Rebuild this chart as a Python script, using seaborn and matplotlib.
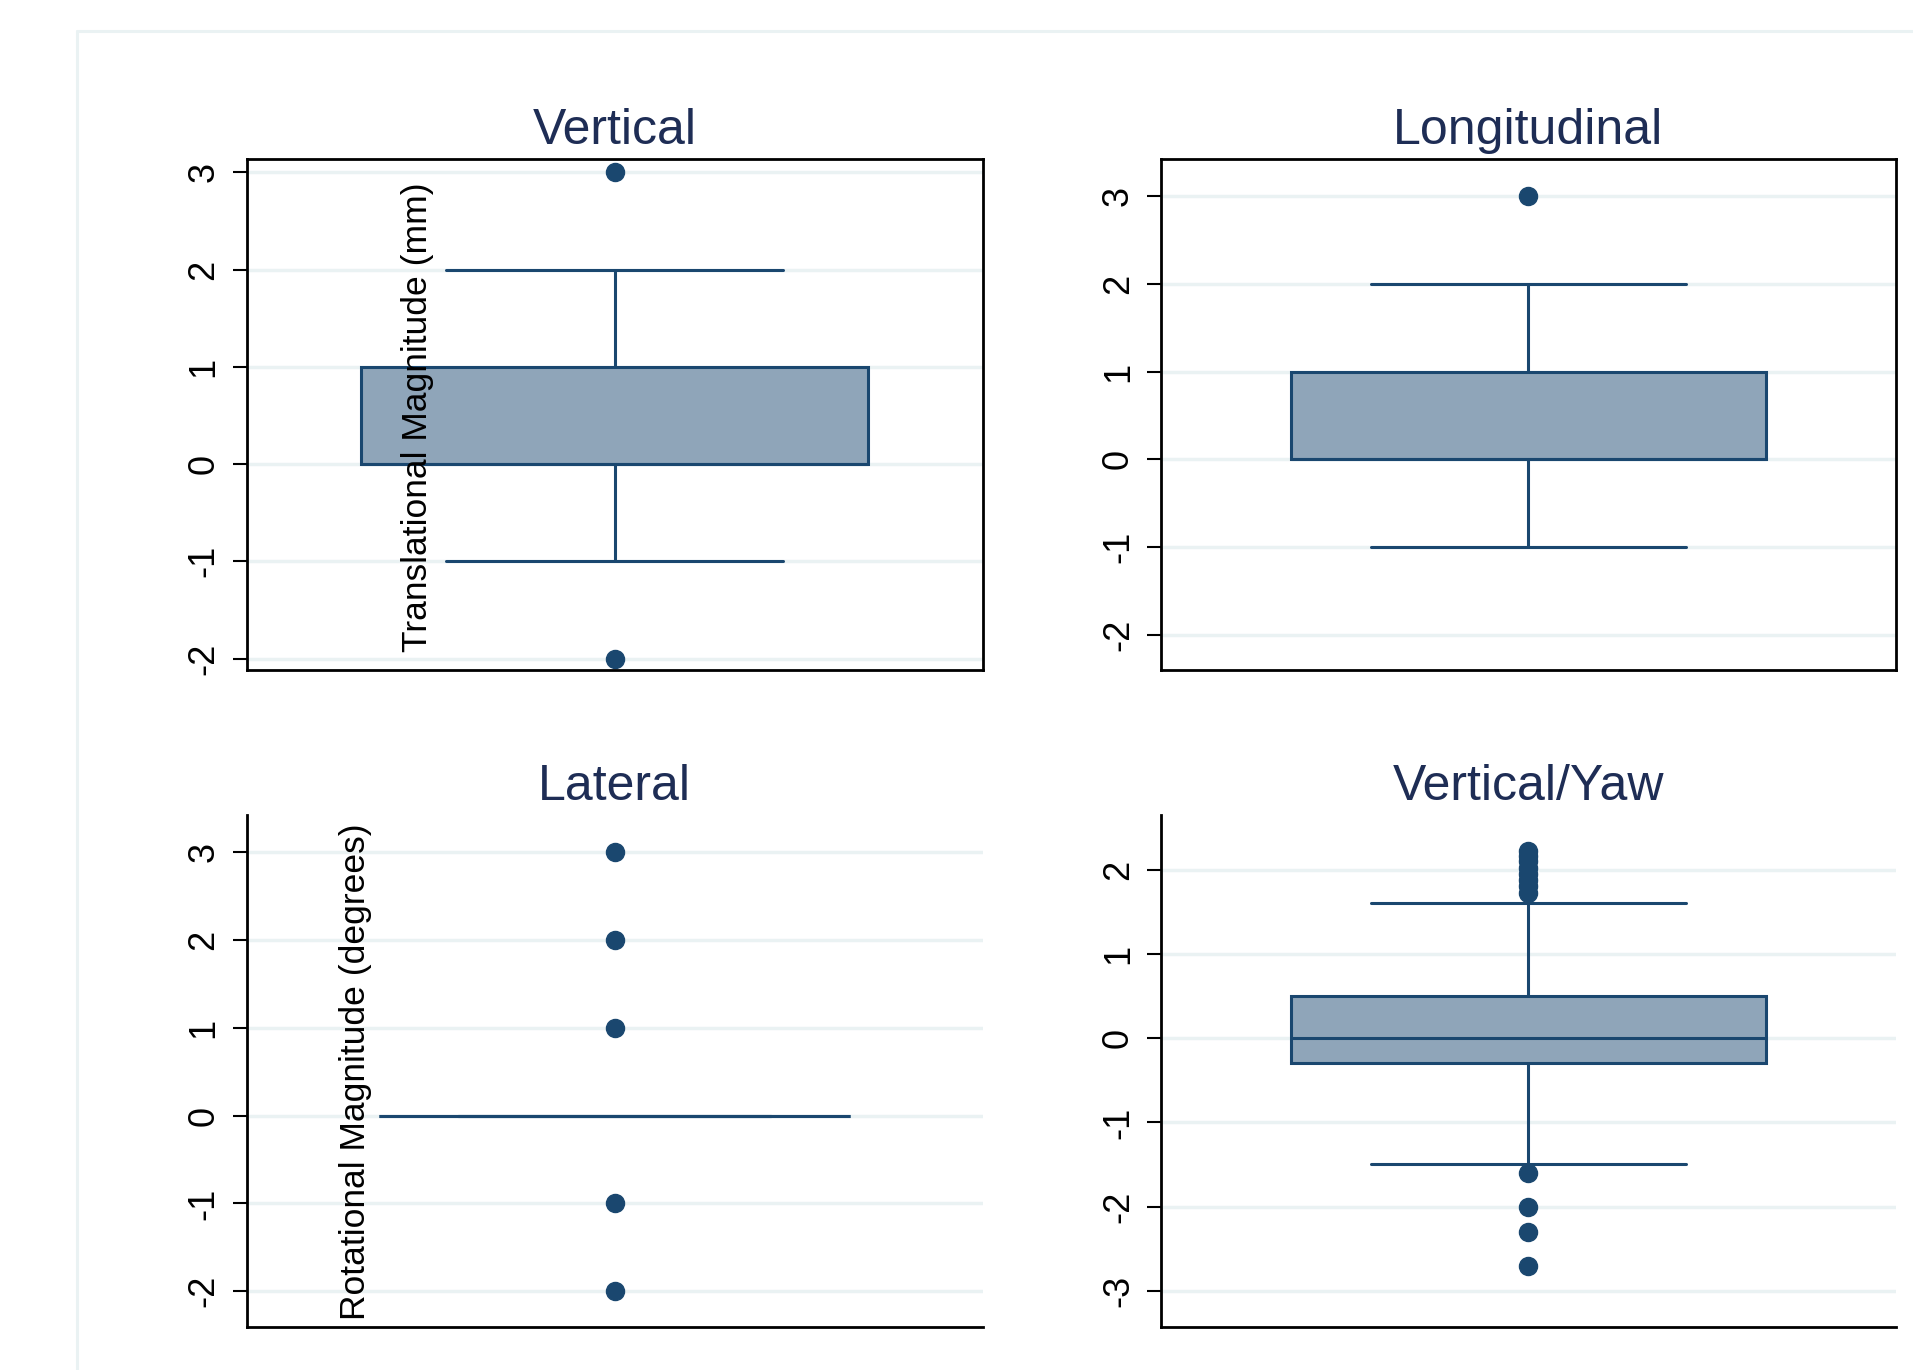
import matplotlib
matplotlib.use("Agg")
import matplotlib.pyplot as plt
import seaborn as sns
from matplotlib.lines import Line2D

vertical = [-2, -1, 0, 0, 0, 0, 0, 0, 1, 1, 1, 2, 3]
longitudinal = [-1, 0, 0, 0, 0, 0, 0, 1, 1, 1, 2, 3]
lateral = [-2, -1, 0, 0, 0, 0, 0, 0, 0, 0, 0, 0, 0, 0, 0, 0, 0, 1, 2, 3]
vertical_yaw = [-2.7, -2.3, -2.0, -1.6, -1.49,
                -1.3, -1.1, -0.9, -0.8, -0.7, -0.6, -0.5, -0.45, -0.4, -0.35,
                -0.3,
                -0.28, -0.25, -0.22, -0.2, -0.18, -0.15, -0.12, -0.1, -0.08,
                -0.06, -0.05, -0.03, -0.02, -0.01,
                0.0,
                0.02, 0.05, 0.08, 0.1, 0.12, 0.15, 0.2, 0.22, 0.25, 0.3, 0.35,
                0.4, 0.42, 0.45,
                0.5,
                0.6, 0.7, 0.8, 0.9, 1.0, 1.2, 1.6,
                1.72, 1.8, 1.88, 1.95, 2.02, 2.1, 2.16, 2.22]

titles = ["Vertical", "Longitudinal", "Lateral", "Vertical/Yaw"]
ticks_a = [-2, -1, 0, 1, 2, 3]
ticks_yaw = [-3, -2, -1, 0, 1, 2]
ylabel_trans = "Translational Magnitude (mm)"
ylabel_rot = "Rotational Magnitude (degrees)"

NAVY = "#1A476F"
FILL = "#8FA5B9"
GRID = "#EAF2F3"
TITLE = "#1E2D55"

sns.set_theme(style="white")
plt.rcParams["font.family"] = ["Liberation Sans", "DejaVu Sans"]
plt.rcParams["axes.unicode_minus"] = False

fig = plt.figure(figsize=(19.13, 13.70), dpi=100)

# Stata-like graph region border
fig.add_artist(Line2D([0.0403, 0.0403], [0, 0.9774], transform=fig.transFigure, color=GRID, lw=2.2))
fig.add_artist(Line2D([0.0403, 1.0], [0.9774, 0.9774], transform=fig.transFigure, color=GRID, lw=2.2))

panels = [
    # data, title, rect, ylim, ticks, box width, full frame, ylabel
    (vertical, titles[0], [0.1289, 0.5106, 0.3847, 0.3731], (-2.123, 3.133), ticks_a, 0.689, True,
     (ylabel_trans, 0.232, 0.496)),
    (longitudinal, titles[1], [0.6069, 0.5106, 0.3842, 0.3731], (-2.41, 3.42), ticks_a, 0.645, True, None),
    (lateral, titles[2], [0.1289, 0.0312, 0.3847, 0.3737], (-2.41, 3.418), ticks_a, 0.641, False,
     (ylabel_rot, 0.148, 0.499)),
    (vertical_yaw, titles[3], [0.6069, 0.0312, 0.3842, 0.3737], (-3.43, 2.644), ticks_yaw, 0.645, False, None),
]

for vals, title, rect, ylim, ticks, w, frame, ylab in panels:
    ax = fig.add_axes(rect)
    sns.boxplot(y=vals, ax=ax, width=w, color=FILL, linecolor=NAVY, linewidth=2.2,
                saturation=1, whis=1.5, fliersize=13, capwidths=0.663 * w,
                flierprops=dict(marker="o", markerfacecolor=NAVY, markeredgecolor=NAVY))
    ax.set_xlim(-0.5, 0.5)
    ax.set_ylim(*ylim)
    ax.set_yticks(ticks)
    ax.set_yticklabels([str(t) for t in ticks])
    ax.set_xticks([])
    ax.set_xlabel("")
    ax.set_ylabel("")
    ax.yaxis.grid(True, color=GRID, lw=2.5)
    ax.set_axisbelow(True)
    ax.tick_params(axis="y", left=True, length=10, width=1.5, pad=8, labelsize=26,
                   labelrotation=90, colors="black")
    for lab in ax.get_yticklabels():
        lab.set_va("center")
    for side in ["top", "right", "left", "bottom"]:
        ax.spines[side].set_color("black")
        ax.spines[side].set_linewidth(2)
    if not frame:
        ax.spines["top"].set_visible(False)
        ax.spines["right"].set_visible(False)
    ax.set_title(title, fontsize=36, color=TITLE, pad=11)
    if ylab is not None:
        # axis title sits inside the plot area, on top of the box
        ax.text(ylab[1], ylab[2], ylab[0], transform=ax.transAxes, rotation=90,
                ha="center", va="center", fontsize=25.5, color="black", zorder=10)

fig.savefig("out.png", dpi=100)
